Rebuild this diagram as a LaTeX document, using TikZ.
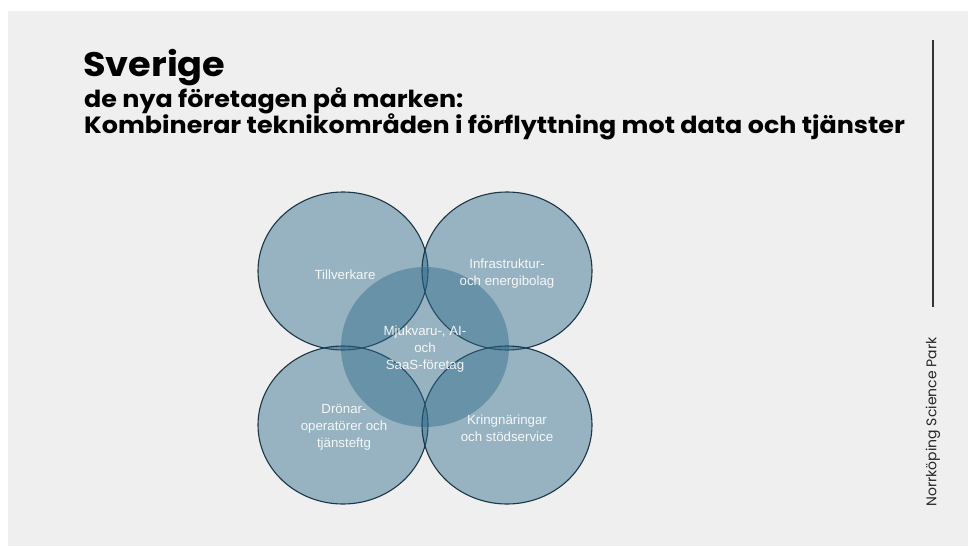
\documentclass[tikz,border=0pt]{standalone}
\usepackage{fontspec}
\setmainfont{Poppins}
\newfontfamily\widefont{Poppins}[FakeStretch=1.08]
\newfontfamily\arialfont{Liberation Sans}
\usetikzlibrary{positioning}
\definecolor{panelgrey}{HTML}{EFEFEF}
\definecolor{venblue}{HTML}{2E6A8A}
\definecolor{rimblue}{HTML}{1B3645}

\begin{document}
\begin{tikzpicture}[x=1pt,y=-1pt,
    sphere/.style={fill=venblue,fill opacity=0.45,draw=rimblue,line width=1.1pt},
    core/.style={fill=venblue,fill opacity=0.45},
    tag/.style={align=center,text=white,text opacity=0.9,font=\arialfont\fontsize{13.3}{17}\selectfont}]
            \useasboundingbox (0,0) rectangle (968,546);
            \fill[panelgrey] (8,11) rectangle (968,546);

            % titel
            \node[anchor=base west,inner sep=0] (rubrik) at (83,76) {\widefont\fontsize{34}{38}\selectfont\bfseries Sverige};
            \node[anchor=base west,inner sep=0] (rad1) at (84,107) {\widefont\fontsize{23.5}{26}\selectfont\bfseries de nya företagen på marken:};
            \node[anchor=base west,inner sep=0] (rad2) at (84,133) {\widefont\fontsize{23.5}{26}\selectfont\bfseries Kombinerar teknikområden i förflyttning mot data och tjänster};

            % cirklarna
            \draw[sphere] (343,271) ellipse (85 and 79);
            \draw[sphere] (507,271) ellipse (85 and 79);
            \draw[sphere] (343,425) ellipse (85 and 79);
            \draw[sphere] (507,425) ellipse (85 and 79);
            \fill[core] (425,347) ellipse (84 and 80);

            \node[tag] (tillv) at (345,275) {Tillverkare};
            \node[tag] (infra) at (507,274) {Infrastruktur-\\och energibolag};
            \node[tag] (mjuk) at (425,349) {Mjukvaru-, AI-\\och\\SaaS-företag};
            \node[tag] (dron) at (344,427) {Drönar-\\operatörer och\\tjänsteftg};
            \node[tag] (kring) at (507,428) {Kringnäringar\\och stödservice};

            % sidokant
            \coordinate (linjetopp) at (933,40);
            \coordinate (linjebotten) at (933,307);
            \draw[line width=1.4pt,draw=black!80] (linjetopp) -- (linjebotten);
            \node[rotate=90,text=black!85,font=\fontsize{14}{16}\selectfont] (nsp) at (933,422) {Norrköping Science Park};

        \end{tikzpicture}
\end{document}
